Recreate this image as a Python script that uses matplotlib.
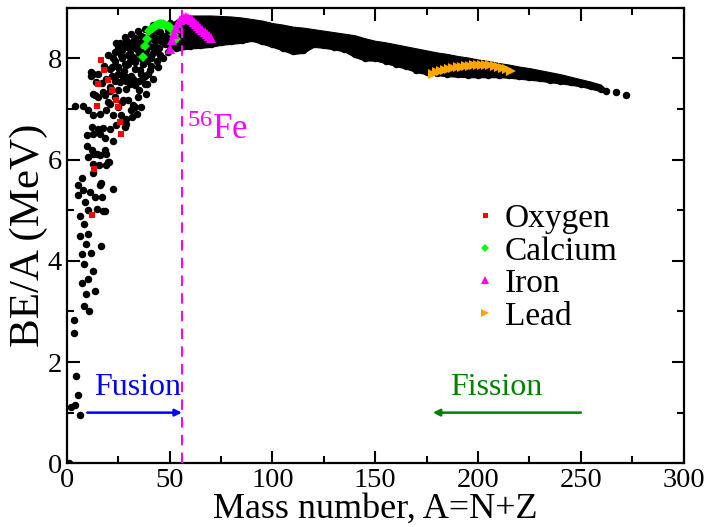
import matplotlib
matplotlib.use("Agg")
import matplotlib.pyplot as plt
import numpy as np

plt.rcParams["font.family"] = ["Liberation Serif", "DejaVu Serif"]
plt.rcParams["mathtext.fontset"] = "custom"
plt.rcParams["mathtext.rm"] = "Liberation Serif"

# scattered light nuclides (A, BE/A in MeV)
light_A = [1, 2.3, 4.2, 6.6, 5.4, 4.4, 3.5, 3.5, 8.6, 10.6,
           9.4, 13.8, 7.6, 10.5, 12.6, 8.6, 7.6, 11.7, 16.7, 9.4, 10.5, 6.5,
           8.6, 6.5, 18.6, 10.5, 14.6, 17.8, 8.9, 5.7, 13.8, 17.0, 11.3, 8.1, 22.7, 16.2, 5.7,
           7.3, 16.9, 12.8, 15.7, 19.3, 20.3, 10.4, 13.0, 12.8, 16.0, 19.3, 20.6, 12.2, 14.6,
           18.6, 9.7, 22.7, 18.6, 9.7, 13.0, 16.2,
           12.2, 15.1, 17.8, 21.1, 28.3, 24.1, 29.0, 27.6, 31.6, 31.4, 10.4, 12.8, 16.0, 19.3,
           22.5, 26.6, 29.0, 20.9, 24.9, 33.1, 36.3, 4.0, 8.0, 34.0, 32.4,
           12.8, 15.2, 17.6, 23.3, 27.4, 30.0, 20.3, 26.7, 13.8, 18.6, 21.1, 25.9, 14.1, 17.0,
           24.9, 29.0, 33.1, 37.9, 34.7, 38.7, 34.9, 30.8, 38.9, 36.5, 42.0, 13.0, 11.8, 15.4,
           12.0, 23.3, 27.4, 31.4, 36.3,
           23.5, 28.7, 35.7, 39.7, 40.4, 44.4, 21.9, 25.1, 28.4, 37.3, 20.9, 24.9, 29.0, 33.1,
           37.1, 41.2, 45.2, 49.2, 23.5, 20.3, 32.4, 30.0, 34.9, 22.5, 26.6, 30.6,
           23.5, 26.7, 30.0, 33.2, 34.7, 38.7, 43.6, 47.6, 51.7, 24.1, 29.0, 33.1, 37.1, 41.2,
           45.2, 49.2, 52.5, 28.2, 31.4, 34.7, 37.9, 42.0, 46.0, 50.1, 53.3,
           26, 27, 28, 30, 31, 32, 33, 35, 36, 38, 39, 40, 42, 43, 44, 46, 47, 48, 50, 51,
           53, 54, 36, 40, 44, 27, 29, 32, 35, 38, 41, 44, 25, 22, 19, 18, 21,
           25, 28, 31, 34, 37, 40, 43, 46, 49, 52, 30, 33, 36, 39, 42, 45, 48]
light_BE = [0.0, 1.11, 1.15, 0.96, 1.34, 1.73, 2.58, 2.83, 3.11, 3.00,
            3.35, 3.41, 3.56, 3.65, 3.80, 3.93, 4.13, 4.16, 4.29, 4.34, 4.54, 4.49,
            4.72, 4.88, 4.98, 5.00, 5.03, 4.98, 5.16, 5.30, 5.26, 5.26, 5.36, 5.40, 5.43, 5.49, 5.49,
            5.63, 5.53, 5.73, 5.89, 5.89, 5.95, 6.05, 5.92, 6.12, 6.09, 6.12, 5.95, 6.19, 6.12,
            6.19, 6.27, 6.36, 6.42, 6.48, 6.51, 6.51,
            6.65, 6.60, 6.63, 6.61, 6.65, 6.68, 6.71, 6.78, 6.84, 6.98, 6.98, 6.88, 6.91, 6.98,
            6.88, 6.88, 6.81, 7.11, 7.04, 7.04, 7.04, 7.06, 7.06, 6.91, 7.08,
            7.30, 7.24, 7.34, 7.24, 7.17, 7.17, 7.14, 7.14, 7.27, 7.27, 7.44, 7.54, 7.54, 7.52,
            7.37, 7.40, 7.47, 7.50, 7.24, 7.30, 7.37, 7.50, 7.50, 7.57, 7.60, 7.70, 7.65, 7.69,
            7.73, 7.55, 7.63, 7.66, 7.70,
            7.63, 7.63, 7.77, 7.70, 7.77, 7.83, 7.83, 7.83, 7.90, 7.90, 7.80, 7.83, 7.87, 7.93,
            7.90, 8.00, 8.06, 8.13, 7.96, 8.06, 8.03, 8.06, 8.10, 8.00, 8.06, 8.10,
            8.13, 8.16, 8.23, 8.20, 8.16, 8.16, 8.23, 8.29, 8.33, 8.30, 8.37, 8.40, 8.43, 8.49,
            8.53, 8.56, 8.49, 8.43, 8.49, 8.54, 8.59, 8.66, 8.69, 8.70, 8.69,
            8.30, 8.00, 7.75, 8.30, 7.95, 8.35, 7.80, 8.30, 8.00, 8.35, 7.95, 8.25, 8.10, 8.40,
            8.15, 8.35, 8.00, 8.45, 8.25, 8.45, 8.35, 8.55, 8.45, 8.55, 8.55, 8.25, 7.55, 7.60,
            7.55, 7.65, 7.85, 7.95, 7.70, 7.65, 7.60, 7.85, 7.35,
            8.20, 8.22, 8.25, 8.30, 8.28, 8.38, 8.35, 8.42, 8.40, 8.25, 7.90, 7.98, 8.12,
            8.05, 8.22, 8.20, 8.30]

# dense band of heavier nuclides: outer upper / lower edge of the dot cloud
band_A = [53, 55, 60, 65, 70, 75, 80, 85, 90, 95, 100, 105, 110, 115, 120, 125, 130, 135,
          140, 145, 150, 155, 160, 165, 170, 175, 180, 185, 190, 195, 200, 205, 210, 215,
          220, 225, 230, 235, 240, 245, 250, 255, 260]
band_top = [8.76, 8.79, 8.85, 8.85, 8.85, 8.84, 8.83, 8.81, 8.78, 8.75, 8.70, 8.67, 8.63,
            8.61, 8.58, 8.55, 8.52, 8.49, 8.46, 8.40, 8.35, 8.32, 8.28, 8.24, 8.20, 8.16,
            8.12, 8.09, 8.05, 8.02, 7.98, 7.95, 7.91, 7.88, 7.84, 7.81, 7.77, 7.73, 7.69,
            7.64, 7.59, 7.54, 7.48]
band_bot = [8.15, 8.17, 8.20, 8.21, 8.23, 8.27, 8.29, 8.31, 8.35, 8.29, 8.23, 8.16, 8.09,
            8.11, 8.23, 8.21, 8.18, 8.14, 8.03, 7.96, 7.96, 7.91, 7.85, 7.80, 7.73, 7.69,
            7.67, 7.65, 7.64, 7.63, 7.63, 7.63, 7.63, 7.62, 7.60, 7.58, 7.56, 7.53, 7.51,
            7.48, 7.45, 7.40, 7.35]
# isolated dots at the heavy end
tail_A = [262, 267, 272]
tail_BE = [7.36, 7.33, 7.27]

oxy_A = [12.5, 13.3, 14.6, 15.4, 16.7, 18.3, 20.3, 21.9, 23.8, 24.8, 25.9, 26.6]
oxy_BE = [4.90, 5.82, 7.06, 7.49, 7.98, 7.77, 7.58, 7.38, 7.17, 7.04, 6.75, 6.51]

ca_A = [37, 38, 39, 40, 41, 42, 43, 44, 45, 46, 47, 48, 49, 50, 51, 52, 53]
ca_BE = [8.03, 8.25, 8.39, 8.55, 8.58, 8.61, 8.64, 8.67, 8.68, 8.69, 8.69, 8.67, 8.65,
         8.62, 8.56, 8.47, 8.39]

fe_A = [50, 51, 52, 53, 54, 55, 56, 57, 58, 59, 60, 61, 62, 63, 64, 65, 66, 67, 68, 69, 70]
fe_BE = [8.18, 8.36, 8.48, 8.60, 8.70, 8.76, 8.79, 8.81, 8.82, 8.81, 8.79, 8.76, 8.72,
         8.69, 8.65, 8.61, 8.57, 8.52, 8.48, 8.44, 8.41]

pb_A = [178, 180, 182, 184, 186, 188, 190, 192, 194, 196, 198, 200, 202, 204, 206, 208,
        210, 212, 214, 216]
pb_BE = [7.70, 7.73, 7.75, 7.78, 7.80, 7.81, 7.83, 7.84, 7.85, 7.86, 7.865, 7.87, 7.87,
         7.87, 7.865, 7.86, 7.84, 7.81, 7.79, 7.76]

FE56 = 56
fusion_span = (10, 56)
fission_span = (250, 178)
arrow_BE = 1.0

fig = plt.figure(figsize=(7.1, 5.27), dpi=100)
ax = fig.add_axes([0.094, 0.121, 0.869, 0.864])

# black cloud
ax.fill_between(band_A, band_bot, band_top, color="black", lw=0.8, zorder=2)
ax.plot(band_A, np.array(band_bot) + 0.05, "o", color="black", ms=5.4, mew=0, zorder=2)
ax.plot(tail_A, tail_BE, "o", color="black", ms=5.4, mew=0, zorder=2)
ax.plot(light_A, light_BE, "o", color="black", ms=5.4, mew=0, zorder=2)

ax.plot(oxy_A, oxy_BE, "s", color="red", ms=4.5, mew=0, zorder=3, label="Oxygen")
ax.plot(ca_A, ca_BE, "D", color="#00ff00", ms=4.8, mew=0, zorder=3, label="Calcium")
ax.plot(fe_A, fe_BE, "^", color="magenta", ms=7.5, mew=0, zorder=3, label="Iron")
ax.plot(pb_A, pb_BE, ">", color="orange", ms=6.5, mew=0, zorder=3, label="Lead")

ax.axvline(FE56, color="magenta", lw=1.5, ls=(0, (5, 3.5)), zorder=4)
ax.text(FE56 + 2.5, 6.4, r"$\mathregular{^{56}Fe}$", color="magenta", fontsize=25,
        ha="left", va="baseline")

ax.annotate("", xy=(fusion_span[1], arrow_BE), xytext=(fusion_span[0], arrow_BE),
            arrowprops=dict(arrowstyle="-|>", color="blue", lw=1.8,
                            mutation_scale=10, shrinkA=0, shrinkB=0))
ax.text(np.mean(fusion_span) + 1.5, 1.5, "Fusion", color="blue", fontsize=23,
        ha="center", va="center")
ax.annotate("", xy=(fission_span[1], arrow_BE), xytext=(fission_span[0], arrow_BE),
            arrowprops=dict(arrowstyle="-|>", color="green", lw=1.8,
                            mutation_scale=10, shrinkA=0, shrinkB=0))
ax.text(np.mean(fission_span) - 5, 1.5, "Fission", color="green", fontsize=23,
        ha="center", va="center")

ax.set_xlim(0, 300)
ax.set_ylim(0, 9)
ax.set_xticks(np.arange(0, 301, 50))
ax.set_xticks(np.arange(0, 301, 25), minor=True)
ax.set_yticks(np.arange(0, 9, 2))
ax.set_yticks(np.arange(0, 10, 1), minor=True)
ax.tick_params(which="both", direction="in", top=True, right=True, width=1.5,
               labelsize=20.5)
ax.tick_params(which="major", length=9)
ax.tick_params(which="minor", length=5)
for s in ax.spines.values():
    s.set_linewidth(1.6)
ax.set_xlabel("Mass number, A=N+Z", fontsize=26, labelpad=0)
ax.set_ylabel("BE/A (MeV)", fontsize=31, labelpad=0)

ax.legend(loc="upper left", bbox_to_anchor=(0.629, 0.607), frameon=False, fontsize=24,
          handlelength=0.8, handletextpad=0.2, labelspacing=0.06, markerscale=0.8,
          borderpad=0)

fig.savefig("out.png", dpi=100)
